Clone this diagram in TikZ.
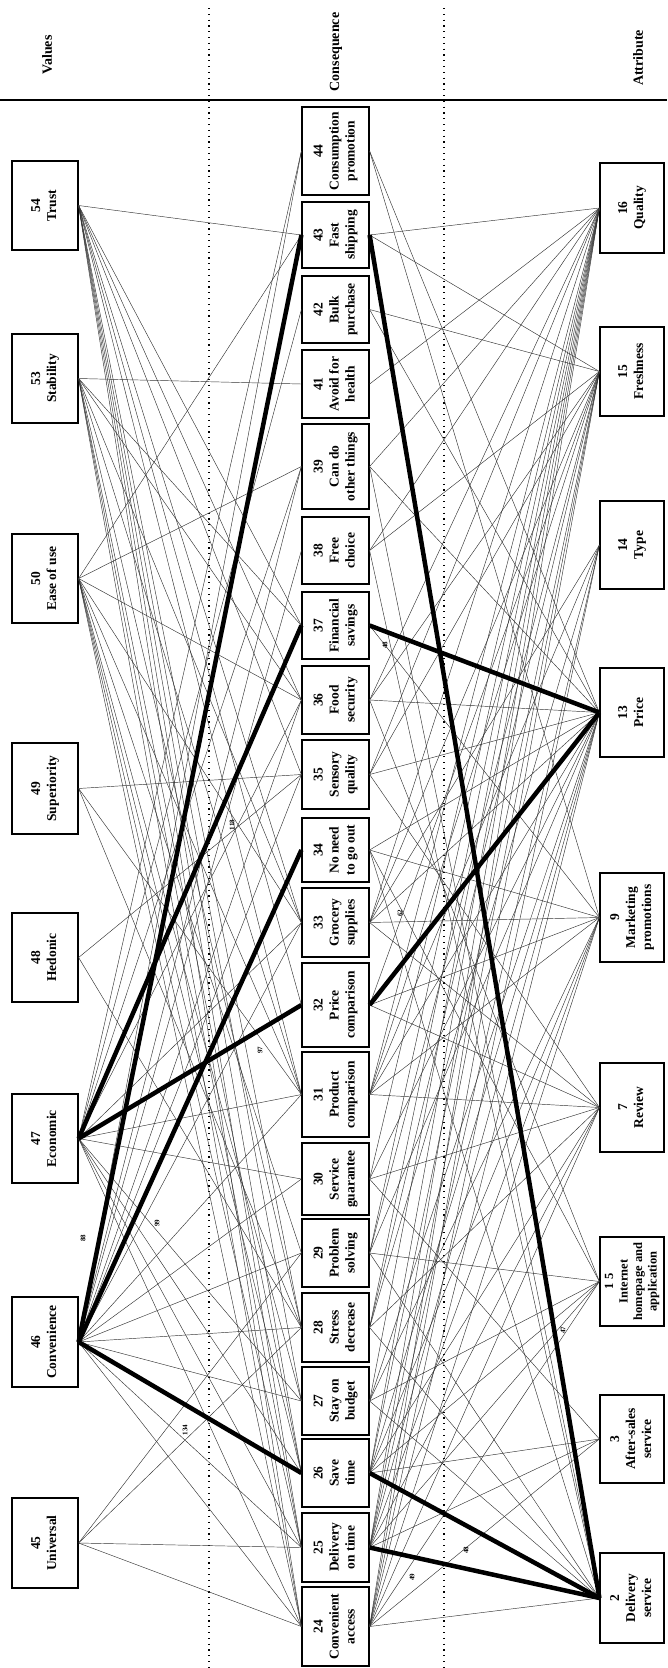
\documentclass[tikz,border=0pt]{standalone}
\usepackage{fontspec}
\setmainfont{Liberation Serif}
\newcommand\bx[1]{\rotatebox{90}{\begin{tabular}{@{}c@{}}#1\end{tabular}}}
\tikzset{
  box/.style={draw, line width=1.2pt, fill=white, inner sep=0pt, font=\bfseries\fontsize{13.5}{16}\selectfont},
  vbox/.style={box, minimum width=66pt},
  cbox/.style={box, minimum width=67pt},
  abox/.style={box, minimum width=64pt},
  thinln/.style={black!80, line width=0.45pt},
  thickln/.style={black, line width=4.5pt},
  lab/.style={rotate=90, inner sep=0pt, font=\bfseries\fontsize{7}{8}\selectfont},
  hdr/.style={rotate=90, inner sep=0pt, font=\bfseries\fontsize{14}{16}\selectfont},
  sep/.style={line width=1.2pt, dash pattern=on 1.2pt off 4.6pt}
}
\begin{document}
\begin{tikzpicture}[x=1pt,y=-1pt]
\useasboundingbox (0,0) rectangle (667,1668);
% headers and separators
\node[hdr] (hv) at (47,55) {Values};
\node[hdr] (hc) at (336,52) {Consequence};
\node[hdr] (ha) at (638,58) {Attribute};
\draw[line width=1.4pt] (0,100) -- (667,100);
\draw[sep] (209,8) -- (209,1668);
\draw[sep] (444,8) -- (444,1668);
% values
\node[vbox, minimum height=89pt] (v54) at (45,205.5) {\bx{54\\Trust}};
\node[vbox, minimum height=89pt] (v53) at (45,378.5) {\bx{53\\Stability}};
\node[vbox, minimum height=89pt] (v50) at (45,578.5) {\bx{50\\Ease of use}};
\node[vbox, minimum height=91pt] (v49) at (45,788.5) {\bx{49\\Superiority}};
\node[vbox, minimum height=89pt] (v48) at (45,957.5) {\bx{48\\Hedonic}};
\node[vbox, minimum height=89pt] (v47) at (45,1138.5) {\bx{47\\Economic}};
\node[vbox, minimum height=90pt] (v46) at (45,1342) {\bx{46\\Convenience}};
\node[vbox, minimum height=90pt] (v45) at (45,1543) {\bx{45\\Universal}};
% consequences
\node[cbox, minimum height=88pt] (c44) at (335.5,151) {\bx{44\\Consumption\\promotion}};
\node[cbox, minimum height=66pt] (c43) at (335.5,235) {\bx{43\\Fast\\shipping}};
\node[cbox, minimum height=67pt] (c42) at (335.5,309.5) {\bx{42\\Bulk\\purchase}};
\node[cbox, minimum height=68pt] (c41) at (335.5,384) {\bx{41\\Avoid for\\health}};
\node[cbox, minimum height=85pt] (c39) at (335.5,466.5) {\bx{39\\Can do\\other things}};
\node[cbox, minimum height=67pt] (c38) at (335.5,550.5) {\bx{38\\Free\\choice}};
\node[cbox, minimum height=67pt] (c37) at (335.5,625.5) {\bx{37\\Financial\\savings}};
\node[cbox, minimum height=68pt] (c36) at (335.5,700) {\bx{36\\Food\\security}};
\node[cbox, minimum height=69pt] (c35) at (335.5,774.5) {\bx{35\\Sensory\\quality}};
\node[cbox, minimum height=64pt] (c34) at (335.5,850) {\bx{34\\No need\\to go out}};
\node[cbox, minimum height=69pt] (c33) at (335.5,922.5) {\bx{33\\Grocery\\supplies}};
\node[cbox, minimum height=84pt] (c32) at (335.5,1005) {\bx{32\\Price\\comparison}};
\node[cbox, minimum height=85pt] (c31) at (335.5,1094.5) {\bx{31\\Product\\comparison}};
\node[cbox, minimum height=72pt] (c30) at (335.5,1179) {\bx{30\\Service\\guarantee}};
\node[cbox, minimum height=68pt] (c29) at (335.5,1253) {\bx{29\\Problem\\solving}};
\node[cbox, minimum height=69pt] (c28) at (335.5,1327.5) {\bx{28\\Stress\\decrease}};
\node[cbox, minimum height=68pt] (c27) at (335.5,1401) {\bx{27\\Stay on\\budget}};
\node[cbox, minimum height=68pt] (c26) at (335.5,1473) {\bx{26\\Save\\time}};
\node[cbox, minimum height=69pt] (c25) at (335.5,1547.5) {\bx{25\\Delivery\\on time}};
\node[cbox, minimum height=79pt] (c24) at (335.5,1626.5) {\bx{24\\Convenient\\access}};
% attributes
\node[abox, minimum height=90pt] (a16) at (632,208) {\bx{16\\Quality}};
\node[abox, minimum height=89pt] (a15) at (632,371.5) {\bx{15\\Freshness}};
\node[abox, minimum height=88pt] (a14) at (632,545) {\bx{14\\Type}};
\node[abox, minimum height=89pt] (a13) at (632,712.5) {\bx{13\\Price}};
\node[abox, minimum height=89pt] (a9) at (632,917.5) {\bx{9\\Marketing\\promotions}};
\node[abox, minimum height=89pt] (a7) at (632,1107.5) {\bx{7\\Review}};
\node[abox, minimum height=89pt, font=\bfseries\fontsize{12.5}{14.5}\selectfont] (a1) at (632,1281.5) {\bx{1 5\\Internet\\homepage and\\application}};
\node[abox, minimum height=88pt] (a3) at (632,1439) {\bx{3\\After-sales\\service}};
\node[abox, minimum height=90pt] (a2) at (632,1598) {\bx{2\\Delivery\\service}};
% thin value -> consequence links
\foreach \t in {43,37,36,35,33,32,31,28,27,26,25,24} \draw[thinln] (v54.east) -- (c\t.west);
\foreach \t in {41,37,36,33,31,28,26,25,24} \draw[thinln] (v53.east) -- (c\t.west);
\foreach \t in {43,39,36,33,31,29,27,26,25,24} \draw[thinln] (v50.east) -- (c\t.west);
\foreach \t in {35,31,28} \draw[thinln] (v49.east) -- (c\t.west);
\foreach \t in {35,28} \draw[thinln] (v48.east) -- (c\t.west);
\foreach \t in {44,42,39,36,33,31,30,27,26,25,24} \draw[thinln] (v47.east) -- (c\t.west);
\foreach \t in {44,39,38,36,35,33,31,30,29,28,27,25,24} \draw[thinln] (v46.east) -- (c\t.west);
\foreach \t in {29,28,25,24} \draw[thinln] (v45.east) -- (c\t.west);
% thin consequence -> attribute links
\foreach \t in {43,41,39,38,36,35,33,31,30,29,28,27,26,25,24} \draw[thinln] (c\t.east) -- (a16.west);
\foreach \t in {43,42,38,36,35,33,32,31,29,28,26,25,24} \draw[thinln] (c\t.east) -- (a15.west);
\foreach \t in {33,31,28,25,24} \draw[thinln] (c\t.east) -- (a14.west);
\foreach \t in {44,42,39,36,35,34,33,31,30,29,27,26,25,24} \draw[thinln] (c\t.east) -- (a13.west);
\foreach \t in {44,37,34,33,32,31,27,26,25,24} \draw[thinln] (c\t.east) -- (a9.west);
\foreach \t in {35,33,32,31,30,28,26,25,24} \draw[thinln] (c\t.east) -- (a7.west);
\foreach \t in {36,34,29,27,26,25,24} \draw[thinln] (c\t.east) -- (a1.west);
\foreach \t in {30,26,25,24} \draw[thinln] (c\t.east) -- (a3.west);
\foreach \t in {39,38,34,29,28,27,24} \draw[thinln] (c\t.east) -- (a2.west);
% thick links
\draw[thickln] (v46.east) -- (c43.west);
\draw[thickln] (v46.east) -- (c34.west);
\draw[thickln] (v46.east) -- (c26.west);
\draw[thickln] (v47.east) -- (c37.west);
\draw[thickln] (v47.east) -- (c32.west);
\draw[thickln] (c43.east) -- (a2.west);
\draw[thickln] (c37.east) -- (a13.west);
\draw[thickln] (c32.east) -- (a13.west);
\draw[thickln] (c26.east) -- (a2.west);
\draw[thickln] (c25.east) -- (a2.west);
% link labels
\node[lab] (l88) at (83,1238) {88};
\node[lab] (l99) at (157,1223) {99};
\node[lab] (l97) at (260,1050) {97};
\node[lab] (l118) at (232,825) {118};
\node[lab] (l134) at (185,1430) {134};
\node[lab] (l48a) at (385,645) {48};
\node[lab] (l62) at (400,913) {62};
\node[lab] (l47) at (563,1330) {47};
\node[lab] (l48b) at (466,1550) {48};
\node[lab] (l49) at (412,1577) {49};
\end{tikzpicture}
\end{document}
